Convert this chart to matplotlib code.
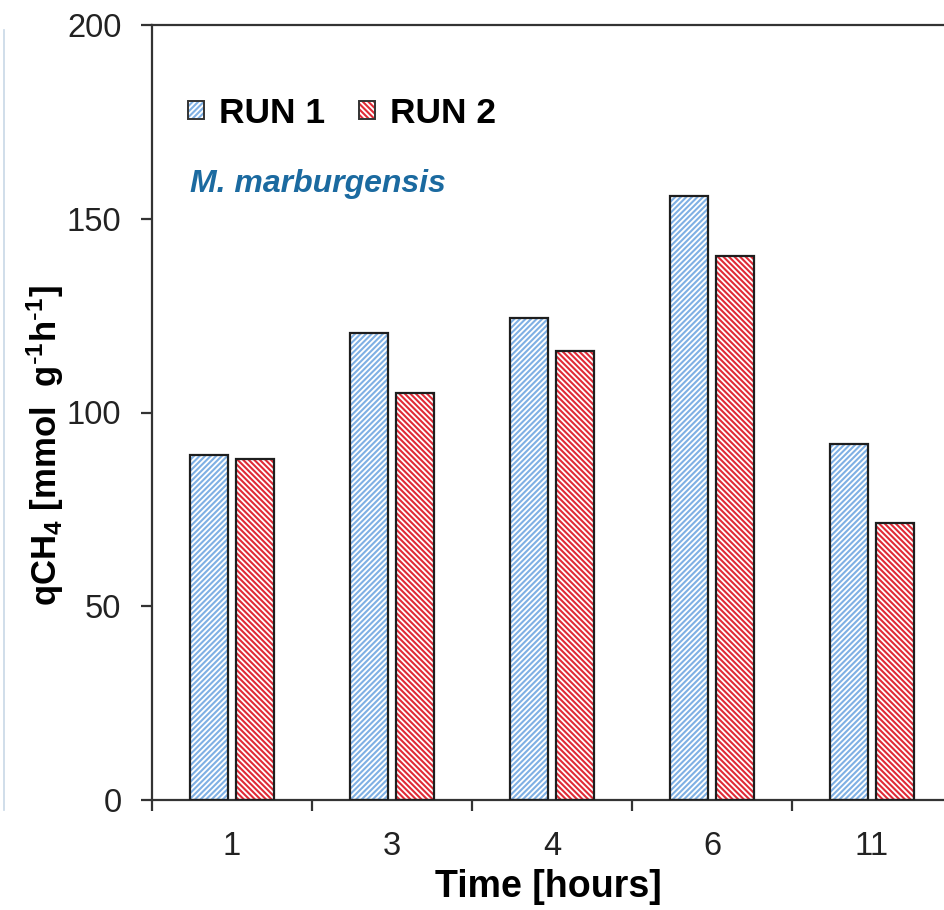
import matplotlib
matplotlib.use("Agg")
import matplotlib.pyplot as plt
import numpy as np
from matplotlib.patches import Patch
from matplotlib.lines import Line2D
from matplotlib.legend_handler import HandlerTuple

plt.rcParams['font.family'] = ['Liberation Sans', 'DejaVu Sans']
plt.rcParams['mathtext.default'] = 'regular'
plt.rcParams['hatch.linewidth'] = 1.5

categories = ['1', '3', '4', '6', '11']
run1 = [89, 120.5, 124.5, 156, 92]
run2 = [88, 105, 116, 140.5, 71.5]
yticks = [0, 50, 100, 150, 200]

blue = '#7fb0e4'
red = '#e02a36'
edge = '#1e1e1e'

fig = plt.figure(figsize=(9.45, 9.10), dpi=100)
ax = fig.add_axes([152/945, 110/910, 800/945, 775/910])

x = np.arange(len(categories))
w = 0.232
off = 0.144
for vals, dx, col, h in [(run1, -off, blue, '//////'), (run2, off, red, '\\\\\\\\\\\\')]:
    ax.bar(x + dx, vals, w, facecolor='white', edgecolor=col, hatch=h, linewidth=0, zorder=2)
    ax.bar(x + dx, vals, w, facecolor='none', edgecolor=edge, linewidth=1.6, zorder=3)

ax.set_xlim(-0.5, len(categories) - 0.5)
ax.set_ylim(0, 200)
ax.set_yticks(yticks)
ax.set_xticks(np.arange(len(categories) + 1) - 0.5)
ax.set_xticklabels([])
ax.set_xticks(x, minor=True)
ax.set_xticklabels(categories, minor=True)
ax.tick_params(axis='x', which='minor', length=0, pad=22, labelsize=23.5, labelcolor='#222222')
ax.tick_params(axis='both', which='major', direction='out', length=8, width=1.6, color='#333333', labelsize=23.5, labelcolor='#222222')
ax.tick_params(axis='y', pad=14)

for s in ['left', 'bottom', 'top']:
    ax.spines[s].set_linewidth(1.6)
    ax.spines[s].set_color('#333333')
ax.spines['right'].set_visible(False)

ax.set_xlabel('Time [hours]', fontsize=27, fontweight='bold', va='center')
ax.xaxis.set_label_coords(0.495, -0.112)
ax.set_ylabel(r'qCH$_4$ [mmol  g$^{\text{-}1}$h$^{\text{-}1}$]', fontsize=25, fontweight='bold', va='center')
ax.yaxis.set_label_coords(-0.134, 0.457)

def legend_handle(col, h):
    return (Patch(facecolor='white', edgecolor=col, hatch=h, linewidth=0),
            Patch(facecolor='none', edgecolor='#333333', linewidth=1.4))

handles = [legend_handle(blue, '//////'), legend_handle(red, '\\\\\\\\\\\\')]
leg = ax.legend(handles, ['RUN 1', 'RUN 2'], ncol=2, frameon=False,
                handler_map={tuple: HandlerTuple(ndivide=1, pad=0)},
                loc='upper left', bbox_to_anchor=(0.019, 0.935),
                prop={'size': 25.5, 'weight': 'bold'}, handlelength=0.44, handleheight=0.44,
                handletextpad=0.43, columnspacing=0.95, borderaxespad=0.2)

ax.text(0.047, 0.785, 'M. marburgensis', transform=ax.transAxes, fontsize=23,
        fontweight='bold', fontstyle='italic', color='#1b6aa0')

fig.add_artist(Line2D([4/945, 4/945], [100/910, 880/910], color='#c8d8e6', linewidth=1.2))

fig.savefig('out.png', dpi=100)
